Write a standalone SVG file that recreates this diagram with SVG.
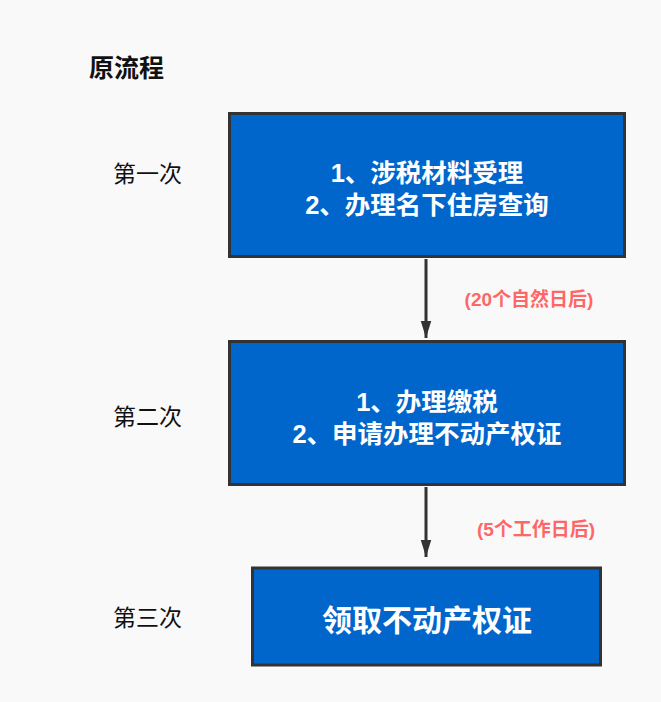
<svg xmlns="http://www.w3.org/2000/svg" width="661" height="702" viewBox="0 0 661 702">
<defs>
<style>
.box{fill:#0066cc;stroke:#333;stroke-width:3}
.bt{fill:#fff;font-family:"Liberation Sans","Noto Sans CJK SC",sans-serif;font-weight:bold;font-size:25.5px;text-anchor:middle}
.side{fill:#111;font-family:"Liberation Sans","Noto Sans CJK SC",sans-serif;font-size:23px}
.note{fill:#ff6666;font-family:"Liberation Sans","Noto Sans CJK SC",sans-serif;font-weight:bold;font-size:19px;text-anchor:middle}
.line{stroke:#333;stroke-width:3;fill:none}
</style>
<marker id="ah" markerUnits="userSpaceOnUse" markerWidth="17" markerHeight="26" refX="26" refY="8" orient="auto" viewBox="0 0 26 16">
<path d="M0,0 L26,8 L0,16 Z" fill="#333"/>
</marker>
</defs>
<rect width="661" height="702" fill="#f9f9f9"/>
<text x="89" y="77" style="font-family:'Liberation Sans','Noto Sans CJK SC',sans-serif;font-weight:bold;font-size:25px;fill:#111">原流程</text>
<text class="side" x="113" y="182">第一次</text>
<text class="side" x="113" y="425">第二次</text>
<text class="side" x="113" y="626">第三次</text>
<g id="connectors">
<line class="line" x1="426" y1="259" x2="426" y2="338" marker-end="url(#ah)"/>
<line class="line" x1="426" y1="487" x2="426" y2="557" marker-end="url(#ah)"/>
<text class="note" x="529" y="306">(20个自然日后)</text>
<text class="note" x="536" y="536">(5个工作日后)</text>
</g>
<g id="n1">
<rect class="box" x="229.5" y="113.5" width="395" height="143"/>
<text class="bt" x="427" y="182">1、涉税材料受理</text>
<text class="bt" x="427" y="214">2、办理名下住房查询</text>
</g>
<g id="n2">
<rect class="box" x="229.5" y="341.5" width="395" height="143"/>
<text class="bt" x="427" y="411">1、办理缴税</text>
<text class="bt" x="427" y="443">2、申请办理不动产权证</text>
</g>
<g id="n3">
<rect class="box" x="252.5" y="568" width="348" height="97"/>
<text class="bt" x="427" y="631" style="font-size:30px">领取不动产权证</text>
</g>
</svg>
